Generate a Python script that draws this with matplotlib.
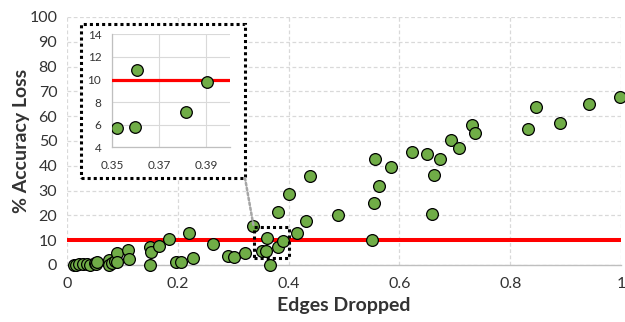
import matplotlib
matplotlib.use("Agg")
import matplotlib.pyplot as plt
from matplotlib.patches import Rectangle, ConnectionPatch

plt.rcParams['font.family'] = ['Lato', 'DejaVu Sans']

# Data: fraction of edges dropped vs % accuracy loss
edges_dropped = [0.012, 0.017, 0.022, 0.029, 0.037, 0.042, 0.050, 0.053, 0.055,
                 0.075, 0.076, 0.082, 0.086, 0.090, 0.091, 0.110, 0.112,
                 0.149, 0.152, 0.149, 0.166, 0.184, 0.197, 0.206, 0.221, 0.227,
                 0.263, 0.291, 0.301, 0.322, 0.336,
                 0.352, 0.3596, 0.3603, 0.3813, 0.3903, 0.367,
                 0.381, 0.400, 0.416, 0.432, 0.439,
                 0.489, 0.550, 0.554, 0.564, 0.556, 0.584, 0.623, 0.650, 0.674,
                 0.662, 0.659, 0.693, 0.708, 0.731, 0.737, 0.833, 0.846, 0.890,
                 0.942, 0.998]
accuracy_loss = [0.0, 0.0, 0.3, 0.4, 0.5, 0.0, 0.8, 0.5, 1.1,
                 2.0, 0.0, 0.9, 1.6, 4.7, 1.3, 6.0, 2.4,
                 7.1, 5.1, 0.0, 7.8, 10.6, 1.3, 1.1, 13.1, 2.7,
                 8.3, 3.6, 3.4, 4.8, 15.7,
                 5.7, 5.8, 10.8, 7.1, 9.75, 0.0,
                 21.4, 28.5, 13.1, 17.9, 35.7,
                 20.2, 10.1, 25.2, 32.0, 42.6, 39.6, 45.6, 44.7, 42.6,
                 36.1, 20.7, 50.3, 47.0, 56.4, 53.3, 54.9, 63.8, 57.3,
                 65.0, 67.8]
threshold = 10

x_ticks = [0, 0.2, 0.4, 0.6, 0.8, 1]
x_tick_labels = ['0', '0.2', '0.4', '0.6', '0.8', '1']
y_ticks = list(range(0, 101, 10))

inset_x_ticks = [0.35, 0.37, 0.39]
inset_x_labels = ['0.35', '0.37', '0.39']
inset_y_ticks = [4, 6, 8, 10, 12, 14]

GREEN = '#70AD47'
GRID = '#d9d9d9'
TEXT = '#333333'

fig = plt.figure(figsize=(6.25, 3.22), dpi=100)
ax = fig.add_axes([67/625, 1-265/322, 554/625, 248/322])

ax.scatter(edges_dropped, accuracy_loss, s=72, c=GREEN, edgecolors='black',
           linewidths=0.9, zorder=4, clip_on=False)
ax.axhline(threshold, color='#ff0000', lw=2.9, zorder=3)

ax.set_xlim(0, 1)
ax.set_ylim(0, 100)
ax.set_xticks(x_ticks)
ax.set_xticklabels(x_tick_labels)
ax.set_yticks(y_ticks)
ax.grid(True, color=GRID, ls=(0, (3, 2)), lw=0.9, zorder=0)
ax.set_axisbelow(True)
for s in ['left', 'top', 'right']:
    ax.spines[s].set_visible(False)
ax.spines['bottom'].set_color('#bfbfbf')
ax.spines['bottom'].set_linewidth(1.0)
ax.tick_params(length=0, labelsize=11.5, colors=TEXT)
ax.tick_params(axis='x', pad=9)
ax.tick_params(axis='y', pad=7)
xl = ax.set_xlabel('Edges Dropped', fontsize=14, fontweight='bold', color=TEXT)
yl = ax.set_ylabel('% Accuracy Loss', fontsize=14, fontweight='bold', color=TEXT)
xl.set_va('center')
yl.set_va('center')
ax.xaxis.set_label_coords(0.5, (265-305)/248)
ax.yaxis.set_label_coords((22-67)/554, 0.5)

# dotted zoom box in main plot
ax.add_patch(Rectangle((0.337, 2.7), 0.064, 12.7, fill=False, ec='black',
                       lw=2.2, ls=(0, (1, 1)), zorder=5))

# inset border
fig.add_artist(Rectangle((80.7/625, 1-178/322), (245-80.7)/625, (178-24)/322,
                         transform=fig.transFigure, facecolor='white',
                         edgecolor='black', lw=2.2, ls=(0, (1, 1)), zorder=1))

# connector
con = ConnectionPatch(xyA=(245/625, 1-178/322), coordsA='figure fraction',
                      xyB=(0.337, 15.4), coordsB='data', axesB=ax,
                      color='#a6a6a6', lw=1.8, ls=(0, (1, 1)), zorder=1)
fig.add_artist(con)

# inset axes
axi = fig.add_axes([112.3/625, 1-147.3/322, (230-112.3)/625, (147.3-34.3)/322])
axi.set_zorder(2)
axi.scatter(edges_dropped, accuracy_loss, s=70, c=GREEN, edgecolors='black',
            linewidths=0.9, zorder=4)
axi.axhline(threshold, color='#ff0000', lw=2.3, zorder=3)
axi.set_xlim(0.35, 0.40)
axi.set_ylim(4, 14)
axi.set_xticks(inset_x_ticks)
axi.set_xticklabels(inset_x_labels)
axi.set_yticks(inset_y_ticks)
axi.grid(True, color=GRID, lw=0.8, zorder=0)
axi.set_axisbelow(True)
for s in ['top', 'right']:
    axi.spines[s].set_visible(False)
for s in ['left', 'bottom']:
    axi.spines[s].set_color('#bfbfbf')
    axi.spines[s].set_linewidth(0.9)
axi.tick_params(length=0, labelsize=8.5, colors=TEXT)
axi.tick_params(axis='x', pad=9)
axi.tick_params(axis='y', pad=8)

fig.savefig('out.png', dpi=100)
